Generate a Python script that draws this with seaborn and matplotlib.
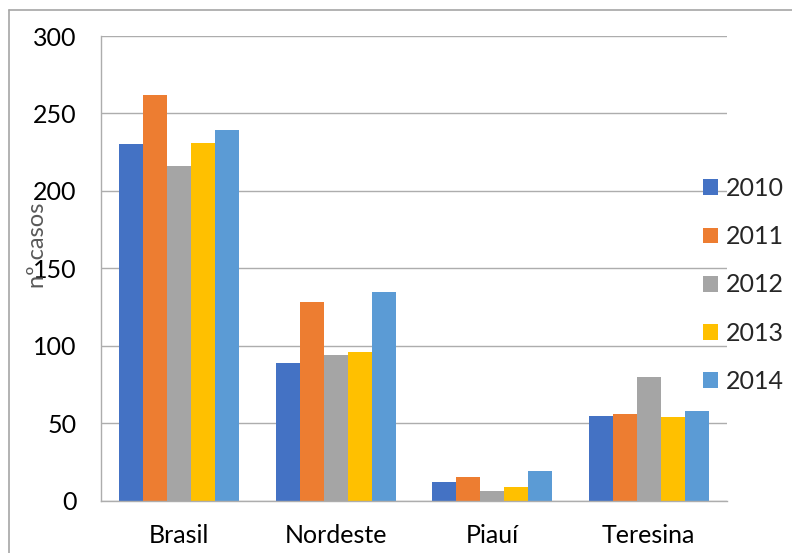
import matplotlib
matplotlib.use("Agg")
import matplotlib.pyplot as plt
from matplotlib.lines import Line2D
from matplotlib.patches import Patch
import seaborn as sns
import pandas as pd

# Case counts by region and year
categories = ["Brasil", "Nordeste", "Piauí", "Teresina"]
years = ["2010", "2011", "2012", "2013", "2014"]
cases_2010 = [230, 89, 12, 55]
cases_2011 = [262, 128, 15, 56]
cases_2012 = [216, 94, 6, 80]
cases_2013 = [231, 96, 9, 54]
cases_2014 = [239, 135, 19, 58]
y_ticks = [0, 50, 100, 150, 200, 250, 300]

series = [cases_2010, cases_2011, cases_2012, cases_2013, cases_2014]
colors = ["#4472C4", "#ED7D31", "#A5A5A5", "#FFC000", "#5B9BD5"]

rows = []
for yr, vals in zip(years, series):
    for cat, v in zip(categories, vals):
        rows.append({"regiao": cat, "ano": yr, "casos": v})
df = pd.DataFrame(rows)

sns.set_style("white")
plt.rcParams["font.family"] = ["Lato", "DejaVu Sans"]

W, H = 792, 553
fig = plt.figure(figsize=(W / 100, H / 100), dpi=100)
ax = fig.add_axes([101 / W, 1 - 500.7 / H, 626 / W, 464.7 / H])

sns.barplot(data=df, x="regiao", y="casos", hue="ano", order=categories,
            hue_order=years, palette=colors, width=0.767, gap=0,
            linewidth=0, saturation=1, legend=False, ax=ax)

grid_c = "#ADADAD"
ax.set_ylim(0, 300)
ax.set_xlim(-0.5, len(categories) - 0.5)
ax.set_yticks(y_ticks)
ax.grid(axis="y", color=grid_c, linewidth=1.0)
ax.set_axisbelow(True)
for s in ["top", "right"]:
    ax.spines[s].set_visible(False)
for s in ["left", "bottom"]:
    ax.spines[s].set_color(grid_c)
    ax.spines[s].set_linewidth(1.0)

fs = 18
ax.tick_params(axis="y", length=5.8, width=1.0, color=grid_c, pad=12,
               labelsize=fs, labelcolor="black")
ax.tick_params(axis="x", which="major", length=0, pad=17,
               labelsize=fs, labelcolor="black")
ax.set_xticks([i + 0.5 for i in range(-1, len(categories))], minor=True)
ax.tick_params(axis="x", which="minor", length=5.8, width=1.0, color=grid_c)
ax.set_xlabel("")
ax.set_ylabel("")

fig.text(38 / W, 1 - 245 / H, "nº casos", rotation=90, ha="center",
         va="center", fontsize=fs - 1, color="#595959")

handles = [Patch(facecolor=c, edgecolor="none") for c in colors]
fig.legend(handles, years, loc="center left",
           bbox_to_anchor=(703 / W, 1 - 285 / H), frameon=False,
           fontsize=fs, borderpad=0, borderaxespad=0,
           handlelength=0.6, handleheight=0.6, handletextpad=0.32,
           labelspacing=1.01)

# outer chart frame (top and left edges)
frame_c = "#A6A6A6"
fig.add_artist(Line2D([9 / W, 1], [1 - 10 / H, 1 - 10 / H],
                      transform=fig.transFigure, color=frame_c, lw=1.2))
fig.add_artist(Line2D([9 / W, 9 / W], [0, 1 - 10 / H],
                      transform=fig.transFigure, color=frame_c, lw=1.2))

fig.savefig("out.png", dpi=100)
